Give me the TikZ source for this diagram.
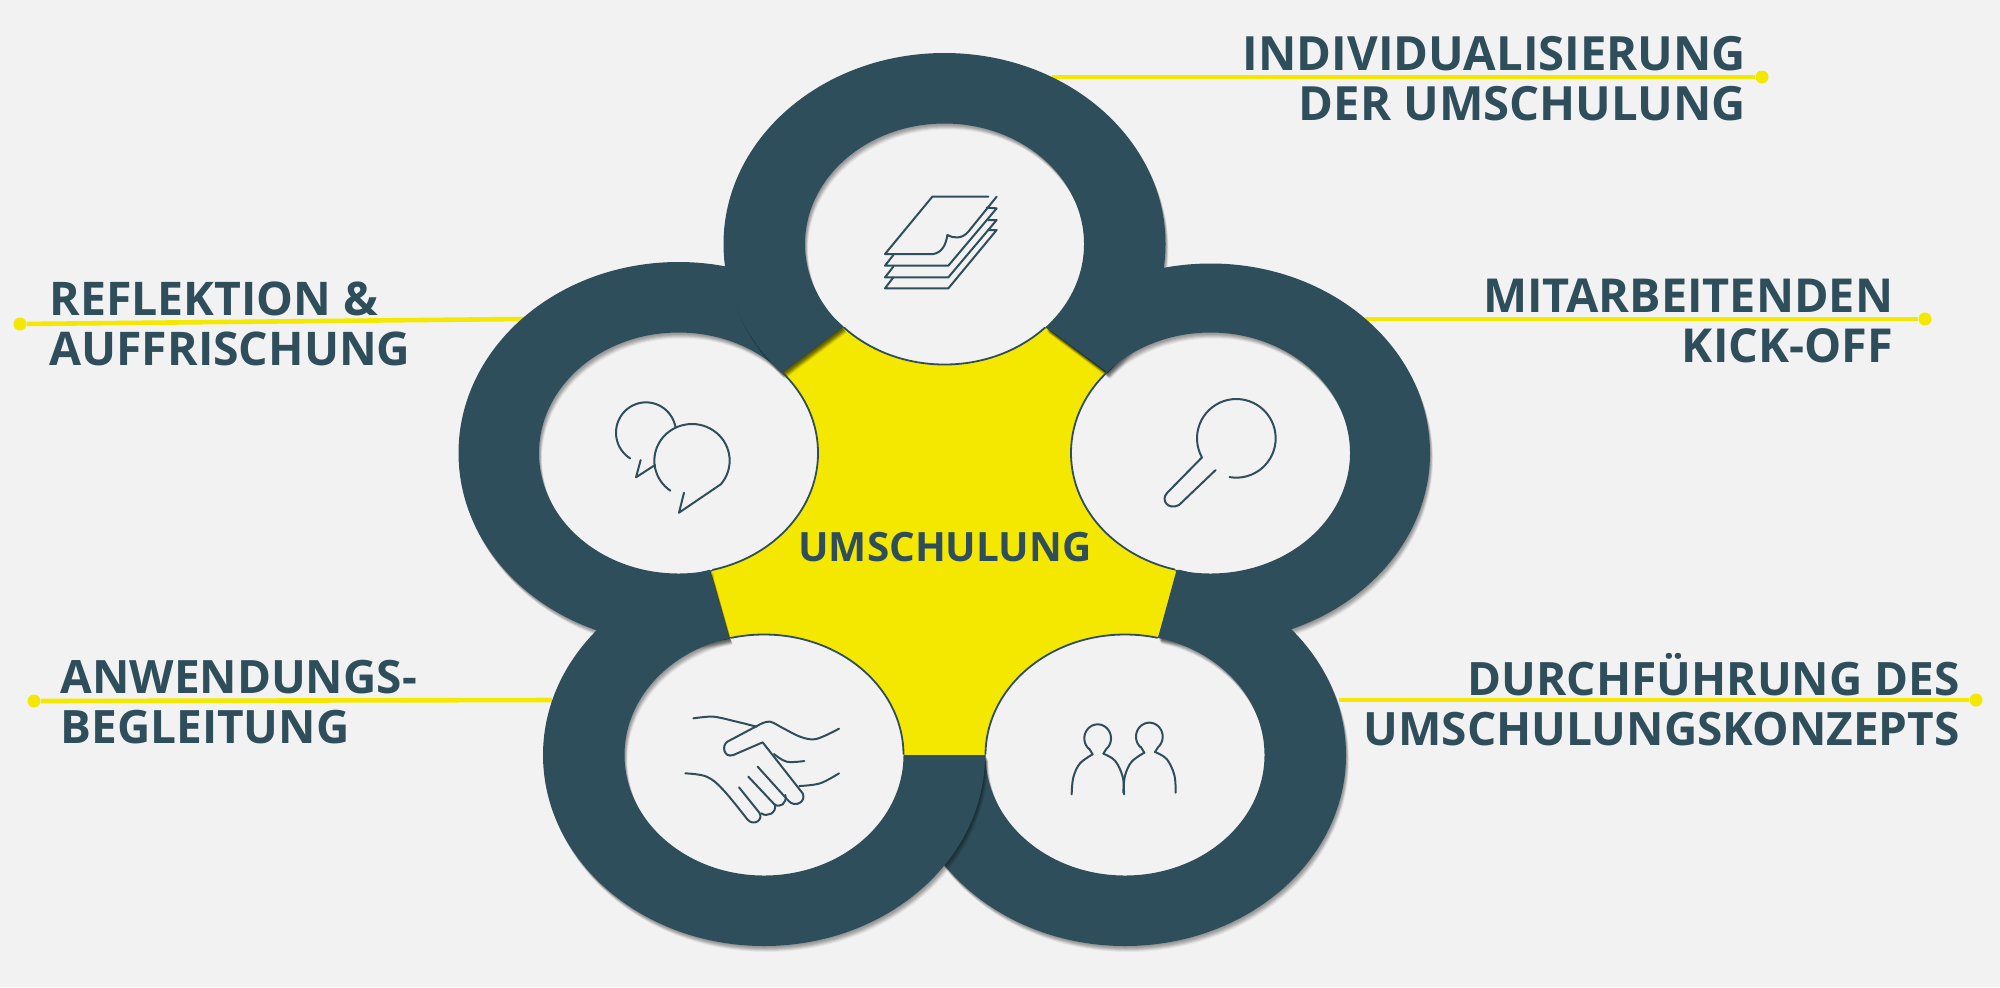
\documentclass[tikz,border=0pt]{standalone}
\usepackage{fontspec}
\setmainfont{Open Sans}
\definecolor{ringc}{HTML}{2F4E5B}
\definecolor{yel}{HTML}{F4E800}
\definecolor{bgc}{HTML}{F2F2F2}
\tikzset{
  dotnode/.style={circle,fill=yel,inner sep=0,minimum size=6.5pt},
  conn/.style={draw=yel,line width=2.3pt},
  label/.style={text=ringc,inner sep=0,font=\fontsize{#1}{25}\selectfont\bfseries},
  iconline/.style={draw=ringc,line width=1pt,line join=round,line cap=round},
}
\newcommand\ringshape[5]{%
  \foreach \sx/\sy/\op in {.5/1/.05,1/2/.08,1.5/3/.09,2/4/.09,2.5/5/.07,3/6/.05}{
    \begin{scope}[shift={(\sx,\sy)}]
      \clip #3;
      \fill[black,opacity=\op,even odd rule] (#1,#2) ellipse [x radius=#4,y radius=#5] (#1,#2) ellipse [x radius=139.5,y radius=120.5];
    \end{scope}}
  \begin{scope}
    \clip #3;
    \fill[ringc,even odd rule] (#1,#2) ellipse [x radius=#4,y radius=#5] (#1,#2) ellipse [x radius=139.5,y radius=120.5];
  \end{scope}}
\begin{document}
\begin{tikzpicture}[x=.5pt,y=-.5pt]
\useasboundingbox (0,0) rectangle (2000,987);
\fill[bgc] (0,0) rectangle (2000,987);
% connectors
\node[dotnode] (d1) at (1762,77) {};
\node[dotnode] (d2) at (1925,319) {};
\node[dotnode] (d3) at (1976,700) {};
\node[dotnode] (d4) at (20,324) {};
\node[dotnode] (d5) at (34,701) {};
\coordinate (e1) at (1052,77);
\coordinate (e2) at (1365,319);
\coordinate (e3) at (1339,700);
\coordinate (e4) at (523,319);
\coordinate (e5) at (552,700);
\draw[conn] (e1) -- (d1);
\draw[conn] (e2) -- (d2);
\draw[conn] (e3) -- (d3);
\draw[conn] (e4) -- (d4);
\draw[conn] (e5) -- (d5);
% yellow centre
\fill[yel] (843,327) -- (1045,327) -- (1107,372) -- (1176,572) -- (1158,638) -- (985,755) -- (904,755) -- (729,637) -- (711,573) -- (783,372) -- cycle;
% holes
\foreach \cx/\cy in {944.5/244,678.5/453,1210.5/453,764/755,1125/755}{
  \fill[bgc] (\cx,\cy) ellipse [x radius=139.5,y radius=120.5];
}
% rings
\ringshape{678.5}{453}{(783,372) -- (903,282) -- (800,150) -- (300,150) -- (300,800) -- (745,694) -- (711,573) -- cycle}{220}{191}
\ringshape{944.5}{244}{(843,327) -- (723,417) -- (600,0) -- (1300,0) -- (1165,417) -- (1045,327) -- cycle}{221}{191}
\ringshape{1210.5}{453}{(1107,372) -- (985,282) -- (1090,150) -- (1600,150) -- (1600,800) -- (1142,696) -- (1176,572) -- cycle}{219.5}{189.5}
\ringshape{1125}{755}{(1158,638) -- (1194,518) -- (1500,500) -- (1500,1000) -- (850,1000) -- (850,755) -- (985,755) -- cycle}{221}{191}
\ringshape{764}{755}{(729,637) -- (695,518) -- (400,500) -- (400,1000) -- (1040,1000) -- (1040,755) -- (904,755) -- cycle}{221}{191}
% hole outlines on the yellow side
\begin{scope}
\clip (843,327) -- (1045,327) -- (1107,372) -- (1176,572) -- (1158,638) -- (985,755) -- (904,755) -- (729,637) -- (711,573) -- (783,372) -- cycle;
\foreach \cx/\cy in {944.5/244,678.5/453,1210.5/453,764/755,1125/755}{
  \draw[ringc,line width=.9pt] (\cx,\cy) ellipse [x radius=139.5,y radius=120.5];
}
\end{scope}
% labels
\node[label=20.2,anchor=north] (centre) at (945,532) {UMSCHULUNG};
\node[label=23.6,anchor=north east,align=right] (l1) at (1746.5,35.5) {INDIVIDUALISIERUNG\\DER UMSCHULUNG};
\node[label=23.4,anchor=north east,align=right] (l2) at (1893.5,278.5) {MITARBEITENDEN\\KICK-OFF};
\node[label=23,anchor=north east,align=right] (l3) at (1960,653) {DURCHFÜHRUNG DES\\UMSCHULUNGSKONZEPTS};
\node[label=23.2,anchor=north west,align=left] (l4) at (49,281.5) {REFLEKTION \&\\AUFFRISCHUNG};
\node[label=23,anchor=north west,align=left] (l5) at (60,659.5) {ANWENDUNGS-\\BEGLEITUNG};
% paper icon
\begin{scope}[shift={(720,30)},scale=1/3,iconline]
\draw (805,500) -- (637,500) -- (495,672) -- (640,672) .. controls (665,668) and (678,645) .. (682,615) .. controls (700,625) and (725,628) .. (745,605) -- (830,500);
\draw (520,675) -- (495,707) -- (685,707) -- (830,535) -- (800,533);
\draw (520,710) -- (495,742) -- (685,742) -- (830,570) -- (805,570);
\draw (520,742) -- (495,775) -- (685,775) -- (830,600) -- (805,600);
\end{scope}
% speech icon
\begin{scope}[shift={(520,320)},scale=1/3,iconline]
\draw plot[domain=-12:-238,samples=40,variable=\t] ({378+90*cos(\t)},{338+91*sin(\t)});
\draw (362,420) -- (348,472) -- (405,435);
\draw plot[domain=125:400,samples=50,variable=\t] ({516+113*cos(\t)},{422+110*sin(\t)}) -- (477,578) -- (492,518);
\end{scope}
% key icon
\begin{scope}[shift={(1080,340)},scale=1/3,iconline]
\draw plot[domain=100:-209,samples=50,variable=\t] ({469+118*cos(\t)},{295+118*sin(\t)}) -- (262,458) .. controls (240,480) and (265,512) .. (297,495) -- (407,390);
\end{scope}
% handshake icon
\begin{scope}[shift={(640,680)},scale=1/3,iconline]
\draw plot[smooth] coordinates {(160,115) (220,110) (290,125) (350,140)};
\draw plot[smooth,tension=.6] coordinates {(597,146) (555,167) (520,178) (480,170) (430,145) (390,125) (360,133)} -- (262,185) .. controls (245,195) and (250,235) .. (280,225) -- (368,187) -- (488,340) .. controls (500,365) and (465,385) .. (445,362) -- (353,260);
\draw plot[smooth,tension=.6] coordinates {(402,222) (440,245) (493,243)};
\draw (325,290) -- (405,375) .. controls (410,400) and (380,412) .. (364,400);
\draw (436,345) .. controls (442,370) and (420,385) .. (403,373);
\draw (297,322) -- (358,398) .. controls (372,420) and (340,440) .. (322,418);
\draw plot[smooth,tension=.6] coordinates {(322,418) (250,330) (200,290) (136,280)};
\draw plot[smooth,tension=.6] coordinates {(478,318) (540,310) (597,280)};
\end{scope}
% people icon
\begin{scope}[shift={(1020,690)},scale=1/3,iconline]
\foreach \px/\py in {0/0,155/-5}{
\begin{scope}[shift={(\px,\py)}]
\draw plot[smooth,tension=.6] coordinates {(155,313) (160,262) (180,220) (218,193)} -- (207,175) -- plot[domain=130:410,samples=40,variable=\t] ({233+40*cos(\t)},{145+42*sin(\t)}) -- (250,191) -- plot[smooth,tension=.6] coordinates {(250,191) (285,212) (308,260) (312,313)};
\end{scope}}
\end{scope}
\end{tikzpicture}
\end{document}
